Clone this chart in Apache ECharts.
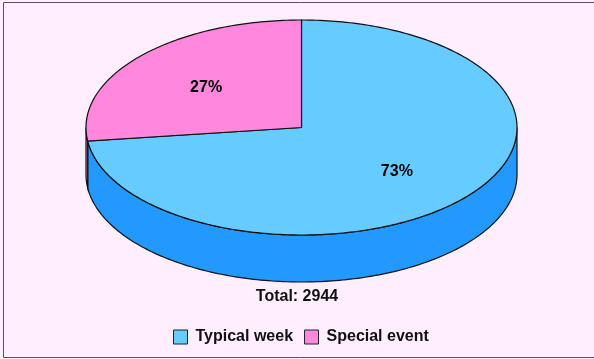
<!DOCTYPE html>
<html>
<head>
<meta charset="utf-8">
<script src="https://cdn.jsdelivr.net/npm/echarts@6/dist/echarts.min.js"></script>
<style>
html,body{margin:0;padding:0;background:#FEEEFE;}
#chart{width:594px;height:359px;}
</style>
</head>
<body>
<div id="chart"></div>
<script>
// Data
var categories = ['Typical week', 'Special event'];
var values = [2149, 795];
var topColors = ['#66CCFF', '#FF88DD'];
var wallColors = ['#2299FF', '#F27FD2'];

var total = values.reduce(function (a, b) { return a + b; }, 0);

// geometry (layout only)
var CX = 301.5, CY = 127.5, RX = 215.5, RY = 107.5, DEPTH = 47, LABEL_F = 0.59, LABEL_DY = 2.5;

function pt(aDeg, dy) {
  var a = aDeg * Math.PI / 180;
  return [CX + RX * Math.cos(a), CY - RY * Math.sin(a) + (dy || 0)];
}
function arcPts(a0, a1, dy) {
  var pts = [];
  var n = Math.max(2, Math.ceil(Math.abs(a1 - a0)));
  for (var i = 0; i <= n; i++) pts.push(pt(a0 + (a1 - a0) * i / n, dy));
  return pts;
}
// slice angles: start at top (90deg), go clockwise
function sliceAngles(idx) {
  var cum = 0;
  for (var i = 0; i < idx; i++) cum += values[i];
  var a0 = 90 - cum / total * 360;
  var a1 = 90 - (cum + values[idx]) / total * 360;
  return [a1, a0]; // lo, hi
}
// intersections of [lo,hi] with front half (180..360 mod 360)
function frontIntervals(lo, hi) {
  var res = [];
  for (var k = -2; k <= 2; k++) {
    var s = 180 + 360 * k, e = 360 + 360 * k;
    var a = Math.max(lo, s), b = Math.min(hi, e);
    if (b > a) res.push([a, b]);
  }
  return res;
}

function makeRender(idx) {
  return function (params, api) {
    var ang = sliceAngles(idx);
    var lo = ang[0], hi = ang[1];
    var children = [];
    frontIntervals(lo, hi).forEach(function (iv) {
      var top = arcPts(iv[0], iv[1], 0);
      var bot = arcPts(iv[1], iv[0], DEPTH);
      children.push({
        type: 'polygon',
        shape: { points: top.concat(bot) },
        style: { fill: wallColors[idx], stroke: '#111', lineWidth: 1.2 }
      });
    });
    var face = [[CX, CY]].concat(arcPts(lo, hi, 0));
    children.push({
      type: 'polygon',
      shape: { points: face },
      style: { fill: topColors[idx], stroke: '#111', lineWidth: 1.2 },
      z2: 10
    });
    var mid = (lo + hi) / 2 * Math.PI / 180;
    var pct = Math.round(api.value(0) / total * 100) + '%';
    children.push({
      type: 'text',
      z2: 20,
      style: {
        text: pct,
        x: CX + RX * LABEL_F * Math.cos(mid),
        y: CY - RY * LABEL_F * Math.sin(mid) + LABEL_DY,
        textAlign: 'center', align: 'center',
        textVerticalAlign: 'middle', verticalAlign: 'middle',
        font: 'bold 16px "Liberation Sans", Arial, sans-serif',
        fill: '#000'
      }
    });
    return { type: 'group', children: children };
  };
}

var series = categories.map(function (name, i) {
  return {
    type: 'custom',
    name: name,
    coordinateSystem: 'none',
    itemStyle: { color: topColors[i] },
    renderItem: makeRender(i),
    data: [[values[i]]],
    silent: true,
    animation: false
  };
});

var chart = echarts.init(document.getElementById('chart'));
chart.setOption({
  backgroundColor: '#FEEEFE',
  animation: false,
  title: {
    text: 'Total: ' + total,
    left: 'center',
    top: 289,
    padding: 0,
    textStyle: { fontFamily: '"Liberation Sans", Arial, sans-serif', fontWeight: 'bold', fontSize: 16, color: '#111' }
  },
  legend: {
    left: 173,
    top: 329,
    padding: 0,
    itemWidth: 14,
    itemHeight: 14,
    itemGap: 11,
    textStyle: { fontFamily: '"Liberation Sans", Arial, sans-serif', fontWeight: 'bold', fontSize: 16, color: '#111', padding: [0, 0, 0, 3] },
    data: categories.map(function (n, i) {
      return { name: n, icon: 'rect', itemStyle: { color: topColors[i], borderColor: '#222', borderWidth: 1 } };
    }),
    selectedMode: false
  },
  graphic: [{
    type: 'rect',
    shape: { x: 3.5, y: 2.5, width: 620, height: 355 },
    style: { fill: 'none', stroke: '#5a5060', lineWidth: 1 },
    silent: true,
    z: -1
  }],
  series: series
});
</script>
</body>
</html>
